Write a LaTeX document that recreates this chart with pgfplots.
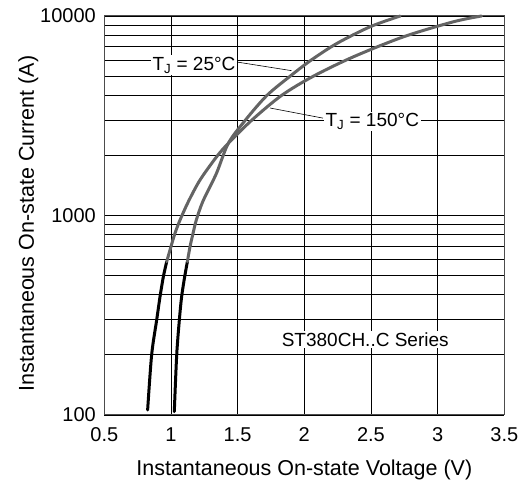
\documentclass[border=0pt]{standalone}
\usepackage{fontspec}
\setmainfont{Liberation Sans}
\usepackage{pgfplots}
\pgfplotsset{compat=1.18}
\definecolor{curvegray}{HTML}{646464}
\begin{document}
\begin{tikzpicture}[font=\fontsize{19bp}{22bp}\selectfont]
\begin{axis}[name=ax, scale only axis, width=400bp, height=399bp,
  ymode=log, xmin=0.5, xmax=3.5, ymin=100, ymax=10000,
  xtick={0.5,1,1.5,2,2.5,3,3.5},
  xticklabels={0.5,1,1.5,2,2.5,3,3.5},
  ytick={100,1000,10000},
  yticklabels={100,1000,10000},
  grid=both,
  minor x tick num=0,
  major grid style={black, line width=0.9bp},
  minor grid style={black, line width=0.9bp},
  axis line style={gray!60!black, line width=1bp},
  major tick length=0, minor tick length=0,
  tick label style={font=\fontsize{20bp}{22bp}\selectfont},
  xticklabel style={yshift=-9bp},
  yticklabel style={xshift=-5bp},
  xlabel={Instantaneous On-state Voltage (V)},
  ylabel={Instantaneous On-state Current (A)},
  every axis x label/.style={at={(axis description cs:0.5,-0.138)}, anchor=center,
    font=\fontsize{21.5bp}{24bp}\selectfont},
  every axis y label/.style={at={(axis description cs:-0.19,0.48)}, anchor=center, rotate=90,
    font=\fontsize{21.5bp}{24bp}\selectfont},
  clip=false]
% T_J = 150 C
\addplot[black, line width=3bp, line cap=round, smooth, tension=0.5] coordinates {
 (0.825,106) (0.855,200) (0.893,300) (0.918,392) (0.943,494) (0.968,587)};
\addplot[curvegray, line width=3bp, line cap=round, smooth, tension=0.5] coordinates {
 (0.968,587) (1.0,698) (1.03,814) (1.068,949) (1.13,1172) (1.218,1507)
 (1.343,1972) (1.43,2300) (1.605,3000) (1.83,4000) (2.07,5000)
 (2.37,6250) (2.745,7870) (3.12,9360) (3.33,10000)};
% T_J = 25 C
\addplot[black, line width=3bp, line cap=round, smooth, tension=0.5] coordinates {
 (1.025,104) (1.043,200) (1.063,300) (1.08,392) (1.103,494) (1.123,587)};
\addplot[curvegray, line width=3bp, line cap=round, smooth, tension=0.5] coordinates {
 (1.123,587) (1.143,698) (1.163,800) (1.19,949) (1.24,1180) (1.34,1620)
 (1.43,2300) (1.557,3000) (1.72,4000) (1.895,5000) (2.05,6000)
 (2.245,7290) (2.495,8840) (2.72,10000)};
\draw[black, line width=0.6bp] (axis cs:1.48,5900) -- (axis cs:1.905,5320);
\draw[black, line width=0.6bp] (axis cs:2.14,3077) -- (axis cs:1.743,3458);
\node[fill=white, inner sep=1.5bp] at (axis cs:1.173,5680) {T\textsubscript{J} = 25°C};
\node[fill=white, inner sep=1.5bp] at (axis cs:2.51,2953) {T\textsubscript{J} = 150°C};
\node[fill=white, inner sep=1.5bp] at (axis cs:2.457,238) {ST380CH..C Series};
\end{axis}
\pgfresetboundingbox
\path[use as bounding box] ([shift={(-104.3bp,-73bp)}]ax.south west) rectangle ([shift={(13.7bp,16bp)}]ax.north east);
\end{tikzpicture}
\end{document}
